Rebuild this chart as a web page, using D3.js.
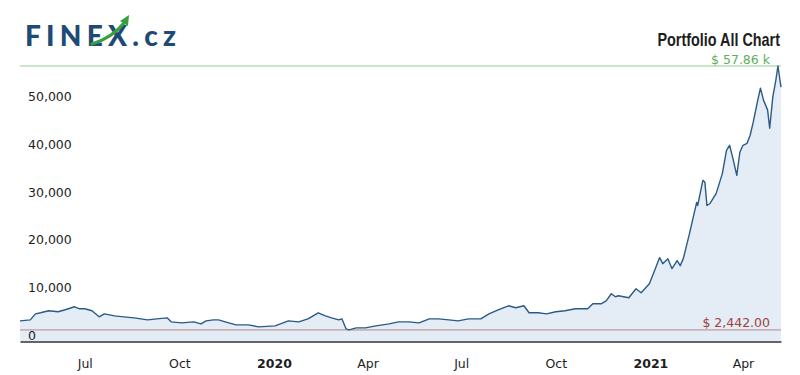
<!DOCTYPE html>
<html>
<head>
<meta charset="utf-8">
<script src="https://cdn.jsdelivr.net/npm/d3@7"></script>
<style>
  html, body { margin: 0; padding: 0; background: #ffffff; }
  svg { display: block; }
</style>
</head>
<body>
<svg id="chart" width="800" height="375"></svg>
<script>
const dates = ["2019-04-29","2019-05-09","2019-05-14","2019-05-19","2019-05-27","2019-06-05","2019-06-12","2019-06-21","2019-06-26","2019-07-01","2019-07-08","2019-07-15","2019-07-20","2019-07-30","2019-08-08","2019-08-18","2019-08-31","2019-09-09","2019-09-19","2019-09-23","2019-10-03","2019-10-15","2019-10-22","2019-10-27","2019-11-03","2019-11-08","2019-11-18","2019-11-25","2019-12-07","2019-12-17","2020-01-02","2020-01-15","2020-01-25","2020-02-03","2020-02-13","2020-02-20","2020-02-26","2020-03-04","2020-03-07","2020-03-11","2020-03-14","2020-03-21","2020-03-30","2020-04-09","2020-04-22","2020-05-01","2020-05-11","2020-05-21","2020-05-31","2020-06-09","2020-06-19","2020-06-28","2020-07-08","2020-07-20","2020-07-28","2020-08-06","2020-08-16","2020-08-23","2020-08-31","2020-09-05","2020-09-14","2020-09-22","2020-10-01","2020-10-10","2020-10-20","2020-11-01","2020-11-06","2020-11-14","2020-11-19","2020-11-24","2020-11-28","2020-12-01","2020-12-11","2020-12-18","2020-12-23","2020-12-31","2021-01-05","2021-01-10","2021-01-13","2021-01-18","2021-01-22","2021-01-27","2021-01-30","2021-02-02","2021-02-08","2021-02-15","2021-02-16","2021-02-21","2021-02-23","2021-02-25","2021-02-28","2021-03-03","2021-03-06","2021-03-09","2021-03-12","2021-03-16","2021-03-19","2021-03-22","2021-03-26","2021-03-29","2021-04-01","2021-04-05","2021-04-08","2021-04-11","2021-04-15","2021-04-18","2021-04-21","2021-04-25","2021-04-27","2021-04-30","2021-05-03","2021-05-05","2021-05-06","2021-05-08"];
const values = [4340,4550,5810,6030,6450,6240,6660,7290,6870,6870,6450,5180,5810,5390,5180,4970,4550,4760,4970,4130,3920,4130,3710,4340,4550,4550,3920,3500,3500,3080,3290,4340,4130,4760,6030,5390,4970,4550,4760,2660,2442,2870,2870,3290,3710,4130,4130,3920,4760,4760,4550,4340,4760,4760,5810,6660,7500,7080,7500,6030,6030,5810,6240,6450,6870,6870,7920,7920,8550,10030,9400,9610,9190,11080,10240,12140,14880,17620,16350,17400,15300,16980,15930,17400,22670,29200,28570,33840,33420,28570,28990,30050,31100,33210,35310,40160,41210,38680,34890,39740,41210,41630,43320,46060,50270,53220,50690,48590,44790,51330,54910,57860,56390,53430];
const yTickValues = [0, 10000, 20000, 30000, 40000, 50000];
const xTickDates = ["2019-07-01","2019-10-01","2020-01-01","2020-04-01","2020-07-01","2020-10-01","2021-01-01","2021-04-01"];
const xTickLabels = ["Jul","Oct","2020","Apr","Jul","Oct","2021","Apr"];
const title = "Portfolio All Chart";

const parse = d3.timeParse("%Y-%m-%d");
const data = dates.map((d, i) => ({ date: parse(d), value: values[i] }));
const maxV = d3.max(values), minV = d3.min(values);

const svg = d3.select("#chart");
const x = d3.scaleTime().domain(d3.extent(data, d => d.date)).range([20, 781]);
const y = d3.scaleLinear().domain([0, maxV]).range([341.5, 66]);

// Logo
const logo = svg.append("g");
logo.append("text").attr("x", 25).attr("y", 46)
  .attr("font-family", "Lato, 'Open Sans', sans-serif").attr("font-weight", 900)
  .attr("font-size", 28).attr("fill", "#1d4b74")
  .attr("textLength", 151).attr("lengthAdjust", "spacing")
  .text("FINEX.cz");
logo.append("path")
  .attr("d", "M92,44 Q112,38 125,22")
  .attr("fill", "none").attr("stroke", "#3a9e3f").attr("stroke-width", 3.2).attr("stroke-linecap", "round");
logo.append("path")
  .attr("d", "M129,15 L120,21 L128,26 Z").attr("fill", "#3a9e3f");

// Title
svg.append("text").attr("transform", "translate(780,46) scale(0.8,1)").attr("text-anchor", "end")
  .attr("font-family", "'Liberation Sans Narrow', 'Arial Narrow', sans-serif")
  .attr("font-weight", "bold").attr("font-size", 18).attr("fill", "#1e1e1e")
  .text(title);

// Area
const area = d3.area().x(d => x(d.date)).y0(y(0)).y1(d => y(d.value));
svg.append("path").datum(data).attr("d", area).attr("fill", "#e4ecf5");

// Min line
svg.append("line").attr("x1", 20).attr("x2", 781).attr("y1", y(minV)).attr("y2", y(minV))
  .attr("stroke", "#c9b3b8").attr("stroke-width", 1.6);
svg.append("text").attr("x", 770).attr("y", y(minV) - 2.5).attr("text-anchor", "end")
  .attr("font-family", "'DejaVu Sans', Verdana, sans-serif").attr("font-size", 12.5)
  .attr("fill", "#a0403f").text("$ " + d3.format(",.2f")(minV));

// Max line
svg.append("line").attr("x1", 20).attr("x2", 781).attr("y1", y(maxV)).attr("y2", y(maxV))
  .attr("stroke", "#8fcf8c").attr("stroke-width", 1);
svg.append("text").attr("x", 770).attr("y", y(maxV) - 2.5).attr("text-anchor", "end")
  .attr("font-family", "'DejaVu Sans', Verdana, sans-serif").attr("font-size", 12.5)
  .attr("fill", "#5fae5c").text("$ " + d3.format(".2f")(maxV / 1000) + " k");

// Line
const line = d3.line().x(d => x(d.date)).y(d => y(d.value));
svg.append("path").datum(data).attr("d", line)
  .attr("fill", "none").attr("stroke", "#2b5a86").attr("stroke-width", 1.4).attr("stroke-linejoin", "round");

// Y axis labels
const yAxis = d3.axisLeft(y).tickValues(yTickValues).tickSize(0).tickFormat(d3.format(","));
const gy = svg.append("g").attr("transform", "translate(28,0)").call(yAxis);
gy.select(".domain").remove();
gy.selectAll("text").attr("text-anchor", "start").attr("x", 0).attr("dy", "-0.2em")
  .attr("font-family", "'DejaVu Sans', Verdana, sans-serif").attr("font-size", 12.5).attr("fill", "#1e1e1e");

// X axis
const xAxis = d3.axisBottom(x).tickValues(xTickDates.map(parse)).tickSize(0)
  .tickFormat((d, i) => xTickLabels[i]);
const gx = svg.append("g").attr("transform", `translate(0,${y(0)})`).call(xAxis);
gx.select(".domain").attr("stroke", "#333").attr("stroke-width", 1.5);
gx.selectAll("text").attr("y", 26).attr("dy", "0")
  .attr("font-family", "'DejaVu Sans', Verdana, sans-serif").attr("font-size", 12.5).attr("fill", "#1e1e1e")
  .attr("font-weight", (d, i) => /^\d{4}$/.test(xTickLabels[i]) ? "bold" : "normal");
</script>
</body>
</html>
